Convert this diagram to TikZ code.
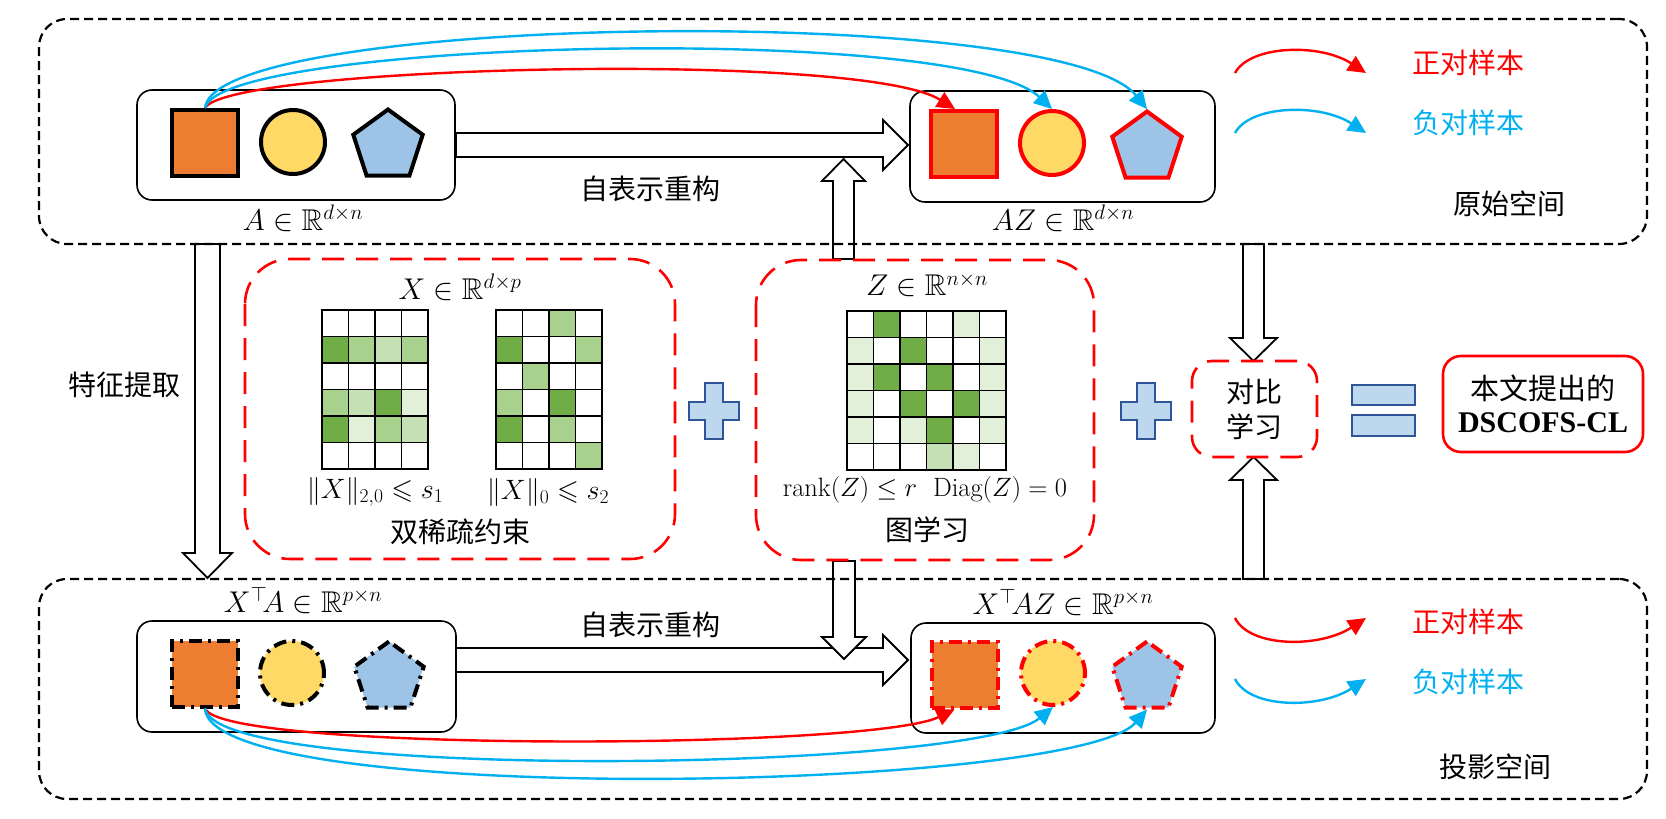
\RequirePackage{fix-cm}
\documentclass[tikz,border=0pt]{standalone}
\usepackage{amsmath,amssymb}
\usepackage{fontspec}
\newfontfamily\cjk{Noto Sans CJK SC}
\newfontfamily\tnr{Liberation Serif}
\usetikzlibrary{arrows.meta,shapes.geometric,calc}
\definecolor{orangeF}{HTML}{ED7D31}
\definecolor{yellowF}{HTML}{FFD966}
\definecolor{blueF}{HTML}{9DC3E6}
\definecolor{cD}{HTML}{70AD47}
\definecolor{cM}{HTML}{A9D18E}
\definecolor{cL}{HTML}{C5E0B4}
\definecolor{cV}{HTML}{E2F0D9}
\colorlet{cW}{white}
\definecolor{posred}{HTML}{FF0000}
\definecolor{negblue}{HTML}{00B0F0}
\definecolor{plusfill}{HTML}{BDD7EE}
\definecolor{plusdraw}{HTML}{2F5597}
\tikzset{
  outerbox/.style={draw, line width=2.2pt, dash pattern=on 9pt off 5pt, rounded corners=28pt},
  innerbox/.style={draw, line width=1.6pt, rounded corners=15pt, minimum width=318pt, minimum height=110pt, inner sep=0pt},
  reddash/.style={draw=posred, line width=2.6pt, dash pattern=on 22pt off 12pt},
  blockarrow/.style={draw, line width=1.8pt, fill=white, line join=miter},
  plusstyle/.style={draw=plusdraw, fill=plusfill, line width=2.2pt},
  sq/.style={rectangle, minimum size=66pt, inner sep=0pt, fill=orangeF},
  ci/.style={circle, minimum size=64pt, inner sep=0pt, fill=yellowF},
  pe/.style={regular polygon, regular polygon sides=5, minimum size=73pt, inner sep=0pt, fill=blueF},
  solidB/.style={draw=black, line width=4pt},
  solidR/.style={draw=posred, line width=4pt},
  dashB/.style={draw=black, line width=4pt, dash pattern=on 13pt off 6pt on 3pt off 6pt},
  dashR/.style={draw=posred, line width=4pt, dash pattern=on 13pt off 6pt on 3pt off 6pt},
  cjktext/.style={font=\cjk\fontsize{28}{34}\selectfont, inner sep=0pt},
  mathtext/.style={font=\fontsize{30}{36}\selectfont, inner sep=0pt},
  posarrow/.style={draw=posred, line width=2.4pt, -{Triangle[length=18pt,width=17pt]}},
  negarrow/.style={draw=negblue, line width=2.4pt, -{Triangle[length=18pt,width=17pt]}},
  cellbox/.style={draw=black, line width=1.5pt},
  plussign/.pic={\draw[plusstyle] (-9,-28) -- (9,-28) -- (9,-9) -- (25,-9) -- (25,9) -- (9,9) -- (9,28) -- (-9,28) -- (-9,9) -- (-25,9) -- (-25,-9) -- (-9,-9) -- cycle;}
}
\begin{document}
\begin{tikzpicture}[x=1pt,y=-1pt]
\useasboundingbox (0,0) rectangle (1666,819);
\fill[white] (0,0) rectangle (1666,819);

% block arrows
\draw[blockarrow] (456,133) -- (883,133) -- (883,120) -- (908,145) -- (883,170) -- (883,157) -- (456,157) -- cycle;
\draw[blockarrow] (456,648) -- (883,648) -- (883,635) -- (908,660) -- (883,685) -- (883,672) -- (456,672) -- cycle;
\draw[blockarrow] (833,259) -- (833,181) -- (822,181) -- (843.5,159) -- (865,181) -- (854,181) -- (854,259) -- cycle;
\draw[blockarrow] (833,561) -- (833,637) -- (822,637) -- (844,659) -- (866,637) -- (855,637) -- (855,561) -- cycle;
\draw[blockarrow] (195,244) -- (195,553) -- (183,553) -- (207.5,578) -- (232,553) -- (220,553) -- (220,244) -- cycle;
\draw[blockarrow] (1243,244) -- (1243,338) -- (1230,338) -- (1253.5,361) -- (1277,338) -- (1264,338) -- (1264,244) -- cycle;
\draw[blockarrow] (1243,579) -- (1243,480) -- (1230,480) -- (1253.5,457) -- (1277,480) -- (1264,480) -- (1264,579) -- cycle;

% outer boxes
\node[outerbox, minimum width=1608pt, minimum height=225pt] (origsp) at (843,131.5) {};
\node[outerbox, minimum width=1608pt, minimum height=220pt] (projsp) at (843,689) {};
\node[cjktext] (origlbl) at (1509,204) {原始空间};
\node[cjktext] (projlbl) at (1495,767) {投影空间};

% inner boxes
\node[innerbox] (boxA) at (296,145) {};
\node[innerbox, minimum width=305pt, minimum height=111pt] (boxAZ) at (1062.5,146.5) {};
\node[innerbox, minimum width=319pt, minimum height=111pt] (boxB) at (296.5,676.5) {};
\node[innerbox, minimum width=304pt, minimum height=110pt] (boxBZ) at (1063,678) {};

% shapes top-left
\node[sq, solidB] (sqA) at (205,143) {};
\node[ci, solidB] (ciA) at (293,142) {};
\node[pe, solidB] (peA) at (388,146) {};
% top-right
\node[sq, solidR] (sqAZ) at (964,144) {};
\node[ci, solidR] (ciAZ) at (1052,143) {};
\node[pe, solidR] (peAZ) at (1147,148) {};
% bottom-left
\node[sq, dashB] (sqB) at (205,673.5) {};
\node[ci, dashB] (ciB) at (292,673) {};
\node[pe, dashB] (peB) at (389,678) {};
% bottom-right
\node[sq, dashR] (sqBZ) at (964.5,674.5) {};
\node[ci, dashR] (ciBZ) at (1053,673) {};
\node[pe, dashR] (peBZ) at (1147,678) {};

% labels
\node[mathtext] (lblA) at (303,218) {$A \in \mathbb{R}^{d\times n}$};
\node[mathtext] (lblAZ) at (1063,218) {$AZ \in \mathbb{R}^{d\times n}$};
\node[mathtext] (lblB) at (303,600) {$X^{\top}\!A \in \mathbb{R}^{p\times n}$};
\node[mathtext] (lblBZ) at (1063,602) {$X^{\top}\!AZ \in \mathbb{R}^{p\times n}$};
\node[cjktext] (rec1) at (650,189) {自表示重构};
\node[cjktext] (rec2) at (650,625) {自表示重构};
\node[cjktext] (feat) at (124,385) {特征提取};

% curves top
\draw[posarrow] (sqA.north) .. controls (228,66) and (860,50) .. ([xshift=-9pt]sqAZ.north);
\draw[negarrow] (sqA.north) .. controls (220,40) and (960,22) .. (ciAZ.north);
\draw[negarrow] (sqA.north) .. controls (214,14) and (1060,2) .. (peAZ.corner 1);
% curves bottom
\draw[posarrow] (sqB.south) .. controls (222,752) and (870,750) .. ([xshift=-10pt]sqBZ.south);
\draw[negarrow] (sqB.south) .. controls (216,782) and (975,772) .. (ciBZ.south);
\draw[negarrow] (sqB.south) .. controls (210,808) and (1075,792) .. ($(peBZ.corner 3)!0.5!(peBZ.corner 4)$);

% legends
\coordinate (lg1s) at (1235,73); \coordinate (lg1e) at (1366,73);
\coordinate (lg2s) at (1235,133); \coordinate (lg2e) at (1366,133);
\coordinate (lg3s) at (1235,618); \coordinate (lg3e) at (1366,618);
\coordinate (lg4s) at (1235,679); \coordinate (lg4e) at (1366,679);
\draw[posarrow] (lg1s) .. controls (1250,45) and (1320,43) .. (lg1e);
\draw[negarrow] (lg2s) .. controls (1250,105) and (1320,103) .. (lg2e);
\draw[posarrow] (lg3s) .. controls (1250,648) and (1320,648) .. (lg3e);
\draw[negarrow] (lg4s) .. controls (1250,709) and (1320,709) .. (lg4e);
\node[cjktext, text=posred] (pos1) at (1468,63) {正对样本};
\node[cjktext, text=negblue] (neg1) at (1468,123) {负对样本};
\node[cjktext, text=posred] (pos2) at (1468,622) {正对样本};
\node[cjktext, text=negblue] (neg2) at (1468,682) {负对样本};

% X box
\draw[reddash, rounded corners=45pt] (245,259) rectangle (675,559);
\node[mathtext] (lblX) at (460,287) {$X \in \mathbb{R}^{d\times p}$};
\foreach \row [count=\r from 0] in {{cW,cW,cW,cW},{cD,cM,cL,cM},{cW,cW,cW,cW},{cM,cL,cD,cV},{cD,cV,cM,cL},{cW,cW,cW,cW}}
  \foreach \c [count=\k from 0] in \row
    \filldraw[cellbox, fill=\c] ({322+26.5*\k},{310+26.5*\r}) rectangle +(26.5,26.5);
\foreach \row [count=\r from 0] in {{cW,cW,cM,cW},{cD,cW,cW,cM},{cW,cM,cW,cW},{cM,cW,cD,cW},{cD,cW,cM,cW},{cW,cW,cW,cM}}
  \foreach \c [count=\k from 0] in \row
    \filldraw[cellbox, fill=\c] ({496+26.5*\k},{310+26.5*\r}) rectangle +(26.5,26.5);
\node[mathtext, font=\fontsize{28}{32}\selectfont] (n1) at (375,492) {$\|X\|_{2,0} \leqslant s_1$};
\node[mathtext, font=\fontsize{28}{32}\selectfont] (n2) at (548,492) {$\|X\|_{0} \leqslant s_2$};
\node[cjktext] (dsc) at (460,532) {双稀疏约束};

% Z box
\draw[reddash, rounded corners=45pt] (756,260) rectangle (1094,560);
\node[mathtext] (lblZ) at (927,285) {$Z \in \mathbb{R}^{n\times n}$};
\foreach \row [count=\r from 0] in {{cW,cD,cW,cW,cV,cW},{cV,cW,cD,cW,cW,cV},{cV,cD,cW,cD,cW,cV},{cV,cW,cD,cW,cD,cV},{cV,cW,cV,cD,cW,cV},{cW,cW,cW,cL,cV,cW}}
  \foreach \c [count=\k from 0] in \row
    \filldraw[cellbox, fill=\c] ({847+26.5*\k},{311+26.5*\r}) rectangle +(26.5,26.5);
\node[mathtext, font=\fontsize{26.5}{32}\selectfont] (rk) at (925,490) {$\mathrm{rank}(Z) \le r$\ \ $\mathrm{Diag}(Z) = 0$};
\node[cjktext] (gl) at (927,530) {图学习};

% plus, contrastive, equals, result
\pic at (714,411) {plussign};
\pic at (1146,411) {plussign};
\node[reddash, rounded corners=20pt, minimum width=125pt, minimum height=96pt, align=center, font=\cjk\fontsize{28}{35}\selectfont] (cl) at (1254.5,409) {对比\\学习};
\draw[plusstyle] (1352,385) rectangle (1415,405);
\draw[plusstyle] (1352,415) rectangle (1415,436);
\node[draw=posred, line width=2.6pt, rounded corners=18pt, minimum width=200pt, minimum height=96pt, align=center, font=\cjk\fontsize{29}{33}\selectfont] (res) at (1543,404) {本文提出的\\{\tnr\bfseries\fontsize{30}{33}\selectfont DSCOFS-CL}};
\end{tikzpicture}
\end{document}
